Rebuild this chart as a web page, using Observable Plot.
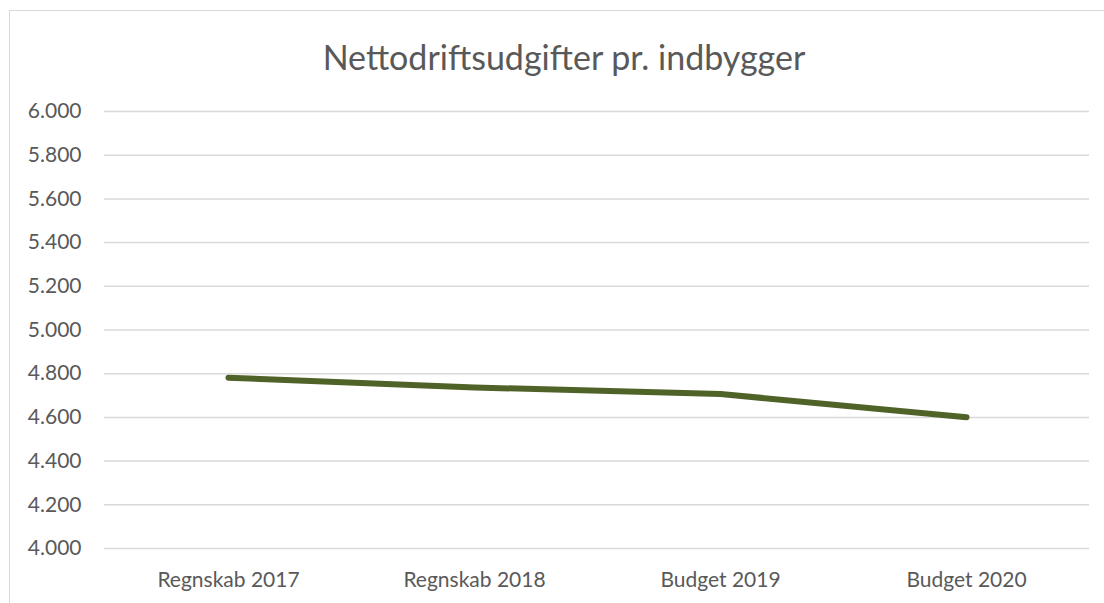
<!DOCTYPE html>
<html><head><meta charset="utf-8">
<script src="https://cdn.jsdelivr.net/npm/d3@7"></script>
<script src="https://cdn.jsdelivr.net/npm/@observablehq/plot@0.6"></script>
<style>
body{margin:0;background:#fff;}
#wrap{position:relative;width:1104px;height:603px;overflow:hidden;background:#fff;font-family:Lato,"Open Sans",sans-serif;}
#frame{position:absolute;left:9px;top:10px;width:1200px;height:700px;border:1px solid #d9d9d9;box-sizing:border-box;}
#title{position:absolute;left:0;width:1128px;top:40px;text-align:center;font-size:34px;line-height:1;color:#595959;white-space:nowrap;}
#chart{position:absolute;left:0;top:90px;}
</style></head>
<body>
<div id="wrap">
  <div id="frame"></div>
  <div id="title">Nettodriftsudgifter pr. indbygger</div>
  <div id="chart"></div>
</div>
<script>
const categories = ["Regnskab 2017", "Regnskab 2018", "Budget 2019", "Budget 2020"];
const values = [4782, 4737, 4707, 4601];
const yTicks = [4000, 4200, 4400, 4600, 4800, 5000, 5200, 5400, 5600, 5800, 6000];

const data = categories.map((c, i) => ({cat: c, v: values[i]}));
const fmt = d3.formatLocale({decimal: ",", thousands: ".", grouping: [3], currency: ["", " kr."]}).format(",d");

const chart = Plot.plot({
  width: 1104,
  height: 513,
  marginLeft: 104,
  marginRight: 15,
  marginTop: 21,
  marginBottom: 55,
  x: {type: "point", domain: categories, padding: 0.5},
  y: {domain: [4000, 6000]},
  style: {fontFamily: "Lato, 'Open Sans', sans-serif", fontSize: "21px", color: "#595959", background: "transparent"},
  marks: [
    Plot.ruleY(yTicks, {stroke: "#d9d9d9", strokeWidth: 1.5}),
    Plot.axisY({ticks: yTicks, tickSize: 0, tickPadding: 23, tickFormat: fmt, label: null, fill: "#595959", fontSize: 21}),
    Plot.axisX({tickSize: 0, tickPadding: 24, label: null, fill: "#595959", fontSize: 21}),
    Plot.line(data, {x: "cat", y: "v", stroke: "#4f6228", strokeWidth: 6, strokeLinecap: "round", strokeLinejoin: "round"})
  ]
});
document.getElementById("chart").appendChild(chart);
</script>
</body></html>
